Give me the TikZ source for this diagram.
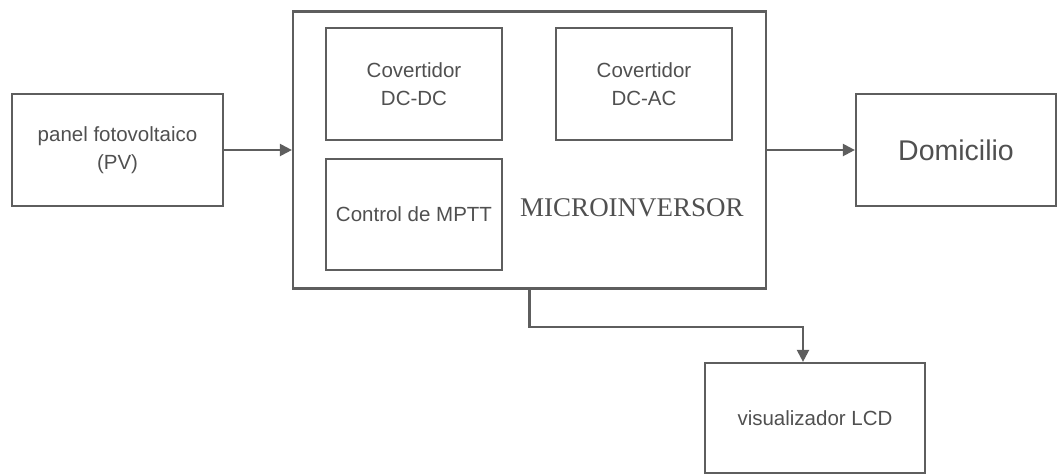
\documentclass[tikz,border=0pt]{standalone}
\usepackage{fontspec}
\setmainfont{Liberation Sans}
\newfontfamily\serifmi{Liberation Serif}
\usetikzlibrary{arrows.meta}
\definecolor{ln}{HTML}{5E5E5E}
\definecolor{tx}{HTML}{505050}
\tikzset{
  blk/.style={draw=ln, line width=2.2pt, minimum width=#1, inner sep=0pt, align=center, text=tx, font=\fontsize{20.5}{28}\selectfont},
  conn/.style={draw=ln, line width=2.2pt, -{Triangle[length=12pt,width=12pt]}},
}
\begin{document}
\begin{tikzpicture}[x=1pt,y=-1pt]
\useasboundingbox (0,0) rectangle (1057,475);
\node[blk=211pt, minimum height=112pt] (pv) at (117.5,150) {panel fotovoltaico\\(PV)};
\node[blk=473pt, minimum height=277pt] (micro) at (529.5,150) {};
\node[blk=176pt, minimum height=112pt] (dcdc) at (414,84) {Covertidor\\DC-DC};
\node[blk=176pt, minimum height=112pt] (dcac) at (644,84) {Covertidor\\DC-AC};
\node[blk=176pt, minimum height=111pt] (mptt) at (414,214.5) {Control de MPTT};
\node[text=tx, font=\serifmi\fontsize{27}{30}\selectfont, inner sep=0pt] (lbl) at (632,208) {MICROINVERSOR};
\node[blk=200pt, minimum height=112pt, font=\fontsize{28.5}{32}\selectfont] (dom) at (956,150) {Domicilio};
\node[blk=220pt, minimum height=110pt] (lcd) at (815,418) {visualizador LCD};
\coordinate (k) at (803,327);
\draw[conn] (pv.east) -- (micro.west);
\draw[conn] (micro.east) -- (dom.west);
\draw[conn] (micro.south) |- (k) -- (k |- lcd.north);
\end{tikzpicture}
\end{document}
